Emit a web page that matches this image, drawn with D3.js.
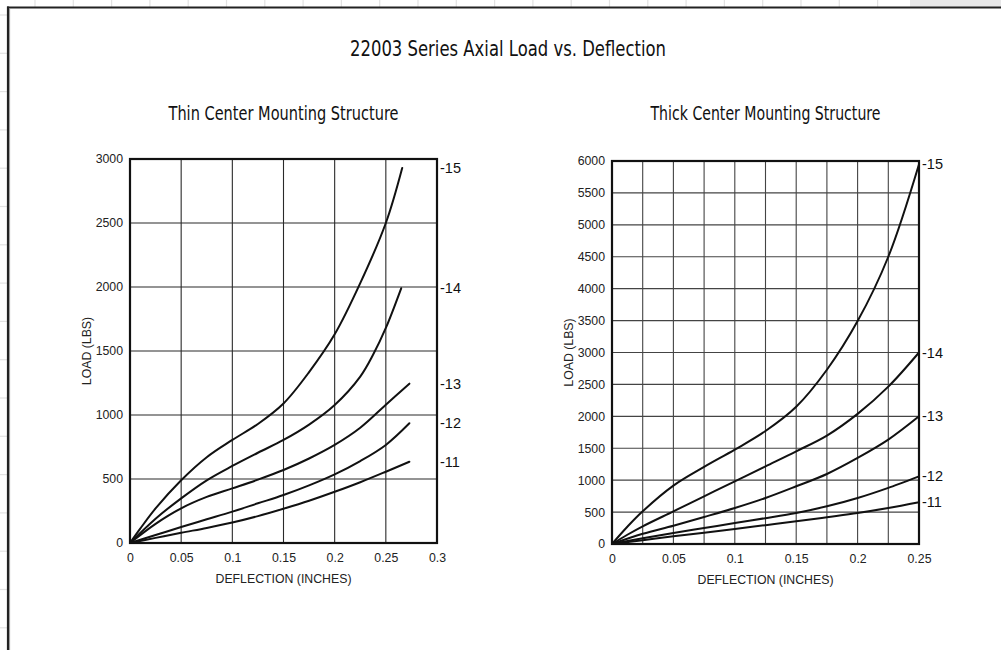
<!DOCTYPE html>
<html>
<head>
<meta charset="utf-8">
<script src="https://cdn.jsdelivr.net/npm/d3@7/dist/d3.min.js"></script>
<style>
html,body{margin:0;padding:0;background:#fff;}
svg{display:block;}
</style>
</head>
<body>
<svg id="chart" width="1001" height="650"></svg>
<script>
// ---------- DATA ----------
const mainTitle = "22003 Series Axial Load vs. Deflection";
const leftTitle = "Thin Center Mounting Structure";
const rightTitle = "Thick Center Mounting Structure";
const yLabel = "LOAD (LBS)";
const xLabel = "DEFLECTION (INCHES)";
const seriesNames = ["-15", "-14", "-13", "-12", "-11"];

// Thin center (left)
const thin15 = [[0,0],[0.01,112],[0.025,270],[0.05,490],[0.075,670],[0.1,805],[0.125,930],[0.15,1090],[0.175,1335],[0.2,1630],[0.225,2030],[0.25,2500],[0.266,2930]];
const thin14 = [[0,0],[0.025,190],[0.05,349],[0.075,490],[0.1,602],[0.125,705],[0.15,805],[0.175,925],[0.2,1078],[0.225,1300],[0.2375,1470],[0.25,1680],[0.265,1990]];
const thin13 = [[0,0],[0.025,150],[0.05,271],[0.075,360],[0.1,427],[0.125,495],[0.15,570],[0.175,660],[0.2,766],[0.225,900],[0.25,1080],[0.273,1245]];
const thin12 = [[0,0],[0.025,62],[0.05,125],[0.075,185],[0.1,245],[0.125,310],[0.15,375],[0.175,450],[0.2,536],[0.225,640],[0.25,766],[0.273,935]];
const thin11 = [[0,0],[0.025,40],[0.05,80],[0.075,118],[0.1,160],[0.125,210],[0.15,268],[0.175,330],[0.2,400],[0.225,475],[0.25,557],[0.273,635]];
const thinXTicks = [0, 0.05, 0.1, 0.15, 0.2, 0.25, 0.3];
const thinXGrid = [0.05, 0.1, 0.15, 0.2, 0.25];
const thinYTicks = [0, 500, 1000, 1500, 2000, 2500, 3000];

// Thick center (right)
const thick15 = [[0,0],[0.0125,270],[0.025,512],[0.05,914],[0.075,1207],[0.1,1478],[0.125,1770],[0.15,2150],[0.175,2730],[0.2,3492],[0.225,4500],[0.25,5950]];
const thick14 = [[0,0],[0.0125,145],[0.025,277],[0.05,512],[0.075,747],[0.1,982],[0.125,1217],[0.15,1452],[0.175,1698],[0.2,2038],[0.225,2465],[0.25,3000]];
const thick13 = [[0,0],[0.025,160],[0.05,287],[0.075,423],[0.1,564],[0.125,721],[0.15,904],[0.175,1097],[0.2,1348],[0.225,1635],[0.25,2000]];
const thick12 = [[0,0],[0.025,90],[0.05,172],[0.075,250],[0.1,329],[0.125,405],[0.15,486],[0.175,590],[0.2,721],[0.225,880],[0.25,1060]];
const thick11 = [[0,0],[0.025,60],[0.05,120],[0.075,178],[0.1,235],[0.125,295],[0.15,355],[0.175,420],[0.2,486],[0.225,565],[0.25,655]];
const thickXTicks = [0, 0.05, 0.1, 0.15, 0.2, 0.25];
const thickXGrid = [0.025, 0.05, 0.075, 0.1, 0.125, 0.15, 0.175, 0.2, 0.225];
const thickYTicks = [0, 500, 1000, 1500, 2000, 2500, 3000, 3500, 4000, 4500, 5000, 5500, 6000];

// ---------- DRAW ----------
const svg = d3.select("#chart");
const condensed = "'DejaVu Sans',sans-serif";
const sans = "'Liberation Sans',Arial,Helvetica,sans-serif";

// background decoration (page behind the frame)
const bg = svg.append("g");
bg.append("rect").attr("x", 910).attr("y", 0).attr("width", 91).attr("height", 7).attr("fill", "#e7e7e8");
d3.range(35, 905, 38.3).forEach(x => bg.append("line").attr("x1", x).attr("x2", x).attr("y1", 0).attr("y2", 7).attr("stroke", "#e2e2e2").attr("stroke-width", 1.2));
d3.range(15, 650, 38.3).forEach(y => bg.append("line").attr("x1", 0).attr("x2", 7).attr("y1", y).attr("y2", y).attr("stroke", "#e2e2e2").attr("stroke-width", 1.2));
bg.append("line").attr("x1", 7).attr("x2", 1001).attr("y1", 7.5).attr("y2", 7.5).attr("stroke", "#222").attr("stroke-width", 2.2);
bg.append("line").attr("x1", 8).attr("x2", 8).attr("y1", 6.5).attr("y2", 650).attr("stroke", "#222").attr("stroke-width", 2.2);
bg.append("line").attr("x1", 9.6).attr("x2", 9.6).attr("y1", 8.6).attr("y2", 650).attr("stroke", "#999").attr("stroke-width", 1);

svg.append("text").attr("x", 508).attr("y", 56).attr("text-anchor", "middle")
  .attr("font-family", condensed).attr("font-size", 22).attr("fill", "#111")
  .attr("textLength", 316).attr("lengthAdjust", "spacingAndGlyphs").text(mainTitle);

function drawPanel(opt) {
  const g = svg.append("g");
  const x = d3.scaleLinear().domain(opt.xDomain).range([opt.left, opt.right]);
  const y = d3.scaleLinear().domain(opt.yDomain).range([opt.bottom, opt.top]);

  g.append("text").attr("x", (opt.left + opt.right) / 2).attr("y", 120)
    .attr("text-anchor", "middle").attr("font-family", condensed).attr("font-size", 19)
    .attr("textLength", 230).attr("lengthAdjust", "spacingAndGlyphs")
    .attr("fill", "#111").text(opt.title);

  // grid
  g.append("g").selectAll("line").data(opt.xGrid).join("line")
    .attr("x1", d => x(d)).attr("x2", d => x(d)).attr("y1", opt.top).attr("y2", opt.bottom)
    .attr("stroke", opt.gridColor).attr("stroke-width", 1.1);
  g.append("g").selectAll("line").data(opt.yTicks.slice(1, -1)).join("line")
    .attr("y1", d => y(d)).attr("y2", d => y(d)).attr("x1", opt.left).attr("x2", opt.right)
    .attr("stroke", opt.gridColor).attr("stroke-width", 1.1);

  // axes (labels only)
  const ax = g.append("g").attr("transform", `translate(0,${opt.bottom})`)
    .call(d3.axisBottom(x).tickValues(opt.xTicks).tickSize(0).tickPadding(10).tickFormat(d => d3.format("")(+d.toFixed(3))));
  const ay = g.append("g").attr("transform", `translate(${opt.left},0)`)
    .call(d3.axisLeft(y).tickValues(opt.yTicks).tickSize(0).tickPadding(7).tickFormat(d3.format("d")));
  [ax, ay].forEach(a => {
    a.select(".domain").remove();
    a.selectAll("text").attr("font-family", sans).attr("font-size", 12.3).attr("fill", "#222");
  });

  // frame
  g.append("rect").attr("x", opt.left).attr("y", opt.top)
    .attr("width", opt.right - opt.left).attr("height", opt.bottom - opt.top)
    .attr("fill", "none").attr("stroke", "#111").attr("stroke-width", 2.2);

  // curves
  const line = d3.line().x(d => x(d[0])).y(d => y(d[1])).curve(d3.curveCatmullRom.alpha(0.5));
  opt.series.forEach((s, i) => {
    g.append("path").attr("d", line(s)).attr("fill", "none").attr("stroke", "#111")
      .attr("stroke-width", 2).attr("stroke-linecap", "round");
    const last = s[s.length - 1];
    g.append("text").attr("x", opt.right + 3).attr("y", y(last[1])).attr("dy", "0.35em")
      .attr("font-family", sans).attr("font-size", 14.5).attr("fill", "#111").text(seriesNames[i]);
  });

  // axis titles
  g.append("text").attr("transform", `translate(${opt.left - 39},${(opt.top + opt.bottom) / 2}) rotate(-90)`)
    .attr("text-anchor", "middle").attr("font-family", sans).attr("font-size", 12.3).attr("fill", "#222").text(yLabel);
  g.append("text").attr("x", (opt.left + opt.right) / 2).attr("y", opt.bottom + 40)
    .attr("text-anchor", "middle").attr("font-family", sans).attr("font-size", 12.3).attr("fill", "#222").text(xLabel);
}

drawPanel({
  title: leftTitle, left: 130, right: 437, top: 159, bottom: 543,
  xDomain: [0, 0.3], yDomain: [0, 3000],
  xTicks: thinXTicks, xGrid: thinXGrid, yTicks: thinYTicks, gridColor: "#2a2a2a",
  series: [thin15, thin14, thin13, thin12, thin11]
});
drawPanel({
  title: rightTitle, left: 612, right: 919, top: 161, bottom: 544,
  xDomain: [0, 0.25], yDomain: [0, 6000],
  xTicks: thickXTicks, xGrid: thickXGrid, yTicks: thickYTicks, gridColor: "#444",
  series: [thick15, thick14, thick13, thick12, thick11]
});
</script>
</body>
</html>
